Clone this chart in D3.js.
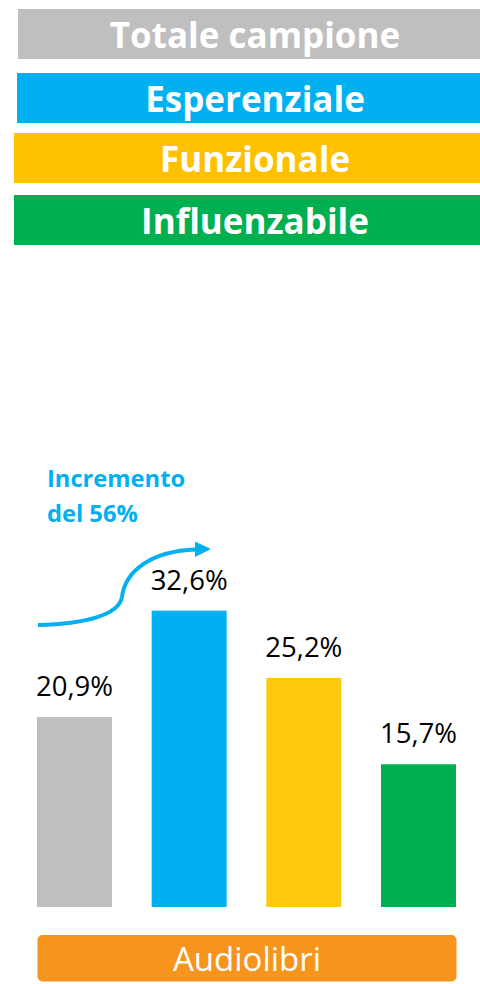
<!DOCTYPE html>
<html>
<head>
<meta charset="utf-8">
<script src="https://cdn.jsdelivr.net/npm/d3@7"></script>
<style>
  html, body { margin: 0; padding: 0; background: #fff; overflow: hidden; }
  svg { display: block; font-family: "Open Sans", sans-serif; }
</style>
</head>
<body>
<div id="chart"></div>
<script>
// segmenti e valori (% ascoltatori di audiolibri)
var segments = ["Totale campione", "Esperenziale", "Funzionale", "Influenzabile"];
var values = [20.9, 32.6, 25.2, 15.7];
var legendColors = ["#BFBFBF", "#00B0F0", "#FFC000", "#00B050"];
var barColors = ["#BFBFBF", "#00B0F0", "#FFC90B", "#00B050"];
var categoryLabel = "Audiolibri";
var noteLines = ["Incremento", "del 56%"];

var width = 480,
  height = 984;

var svg = d3.select("#chart").append("svg")
  .attr("width", width)
  .attr("height", height);

// legenda in alto: fasce colorate con il nome del segmento
var legendTop = [9, 73, 133, 195];
var legendLeft = [18, 17, 14, 14];
var legend = svg.append("g").selectAll("g")
  .data(segments)
  .enter().append("g");

legend.append("rect")
  .attr("x", function(d, i) { return legendLeft[i]; })
  .attr("y", function(d, i) { return legendTop[i]; })
  .attr("width", function(d, i) { return 494 - legendLeft[i]; })
  .attr("height", 50)
  .attr("fill", function(d, i) { return legendColors[i]; });

legend.append("text")
  .attr("x", 255)
  .attr("y", function(d, i) { return legendTop[i] + 38.5; })
  .attr("text-anchor", "middle")
  .attr("fill", "#fff")
  .attr("font-weight", "bold")
  .attr("font-size", 35)
  .text(function(d) { return d; });

// scale
var x = d3.scaleBand()
  .domain(segments)
  .range([37, 456])
  .paddingInner(0.346)
  .paddingOuter(0);

var y = d3.scaleLinear()
  .domain([0, 35])
  .range([907, 907 - 35 * 9.09]);

var bars = svg.append("g");

bars.selectAll("rect")
  .data(values)
  .enter().append("rect")
  .attr("x", function(d, i) { return x(segments[i]); })
  .attr("y", function(d) { return y(d); })
  .attr("width", x.bandwidth())
  .attr("height", function(d) { return y(0) - y(d); })
  .attr("fill", function(d, i) { return barColors[i]; });

bars.selectAll("text")
  .data(values)
  .enter().append("text")
  .attr("x", function(d, i) { return x(segments[i]) + x.bandwidth() / 2; })
  .attr("y", function(d) { return y(d) - 21; })
  .attr("text-anchor", "middle")
  .attr("font-size", 27.5)
  .attr("fill", "#000")
  .text(function(d) { return d3.format(".1f")(d).replace(".", ",") + "%"; });

// freccia dell'incremento
svg.append("path")
  .attr("d", "M38,625 C85,624 119,615 122,597 C125,572 150,551 196,549.5")
  .attr("fill", "none")
  .attr("stroke", "#00B0F0")
  .attr("stroke-width", 4);

svg.append("path")
  .attr("d", "M211,549 L195,541.5 L195,557 Z")
  .attr("fill", "#00B0F0");

svg.append("g").selectAll("text")
  .data(noteLines)
  .enter().append("text")
  .attr("x", 47)
  .attr("y", function(d, i) { return 487 + i * 34.5; })
  .attr("font-weight", "bold")
  .attr("font-size", 23.7)
  .attr("fill", "#00B0F0")
  .text(function(d) { return d; });

// etichetta categoria in basso
svg.append("rect")
  .attr("x", 37.5)
  .attr("y", 935)
  .attr("width", 419)
  .attr("height", 46.5)
  .attr("rx", 5)
  .attr("fill", "#F7941E");

svg.append("text")
  .attr("x", 247)
  .attr("y", 970.5)
  .attr("text-anchor", "middle")
  .attr("font-size", 33)
  .attr("fill", "#fff")
  .text(categoryLabel);
</script>
</body>
</html>
